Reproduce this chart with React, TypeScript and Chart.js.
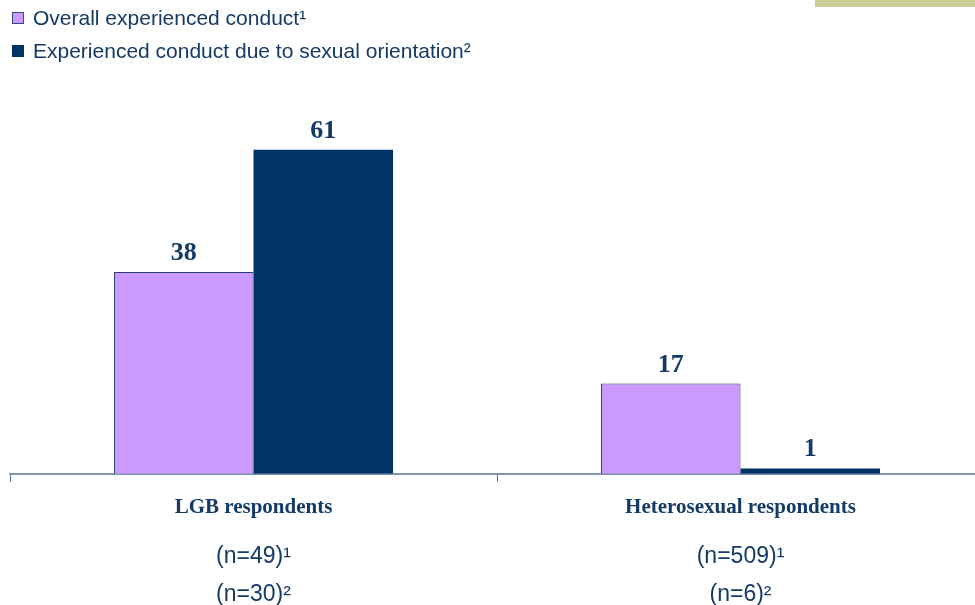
import React, { useEffect, useRef } from "react";
import { Chart, registerables } from "chart.js";

Chart.register(...registerables);

const categories = ["LGB respondents", "Heterosexual respondents"];
const overallConduct = [38, 17];
const conductDueToOrientation = [61, 1];
const sampleOverall = ["(n=49)¹", "(n=509)¹"];
const sampleOrientation = ["(n=30)²", "(n=6)²"];
const seriesLabels = [
  "Overall experienced conduct¹",
  "Experienced conduct due to sexual orientation²",
];

const PURPLE = "#cc99ff";
const NAVY = "#003366";
const TEXT = "#143a66";

const overlayPlugin = {
  id: "overlay",
  afterDatasetsDraw(chart: any) {
    const ctx = chart.ctx;
    ctx.save();
    ctx.font = "bold 26px 'Liberation Serif'";
    ctx.fillStyle = TEXT;
    ctx.textAlign = "center";
    ctx.textBaseline = "alphabetic";
    chart.data.datasets.forEach((ds: any, i: number) => {
      const meta = chart.getDatasetMeta(i);
      meta.data.forEach((bar: any, j: number) => {
        ctx.fillText(String(ds.data[j]), bar.x, bar.y - 12);
      });
    });
    ctx.restore();
  },
  afterDraw(chart: any) {
    const ctx = chart.ctx;
    const xs = chart.scales.x;
    ctx.save();
    // sample sizes
    ctx.font = "23px 'Liberation Sans'";
    ctx.fillStyle = TEXT;
    ctx.textAlign = "center";
    ctx.textBaseline = "middle";
    categories.forEach((_, i) => {
      const x = xs.getPixelForValue(i);
      ctx.fillText(sampleOverall[i], x, chart.chartArea.bottom + 83);
      ctx.fillText(sampleOrientation[i], x, chart.chartArea.bottom + 121);
    });
    // legend
    ctx.textAlign = "left";
    ctx.font = "21px 'Liberation Sans'";
    chart.data.datasets.forEach((ds: any, i: number) => {
      const cy = 18 + i * 33;
      ctx.fillStyle = ds.backgroundColor;
      ctx.fillRect(12, cy - 6, 12, 12);
      ctx.strokeStyle = i === 0 ? "#3a4a7a" : NAVY;
      ctx.lineWidth = 1;
      ctx.strokeRect(12.5, cy - 5.5, 11, 11);
      ctx.fillStyle = TEXT;
      ctx.fillText(seriesLabels[i], 33, cy + 1);
    });
    // decorative top-right band
    ctx.fillStyle = "#cccc99";
    ctx.fillRect(815, 0, 175, 7);
    ctx.restore();
  },
};

export default function App() {
  const ref = useRef<HTMLCanvasElement>(null);
  useEffect(() => {
    if (!ref.current) return;
    const chart = new Chart(ref.current, {
      type: "bar",
      data: {
        labels: categories,
        datasets: [
          {
            label: seriesLabels[0],
            data: overallConduct,
            backgroundColor: PURPLE,
            borderColor: "#2a3f74",
            borderWidth: 1,
          },
          {
            label: seriesLabels[1],
            data: conductDueToOrientation,
            backgroundColor: NAVY,
            borderColor: NAVY,
            borderWidth: 0,
          },
        ],
      },
      options: {
        responsive: false,
        animation: false,
        devicePixelRatio: 1,
        layout: { padding: { left: 10, right: 10, top: 102, bottom: 72 } },
        plugins: { legend: { display: false }, tooltip: { enabled: false } },
        datasets: { bar: { categoryPercentage: 0.573, barPercentage: 1 } },
        scales: {
          y: { display: false, min: 0, max: 70 },
          x: {
            offset: true,
            border: { display: true, color: "#8096b0", width: 2 },
            grid: {
              display: true,
              drawOnChartArea: false,
              drawTicks: true,
              tickLength: 8,
              color: "#5a7090",
              lineWidth: 1,
              offset: true,
            },
            ticks: {
              color: TEXT,
              padding: 13,
              font: { family: "'Liberation Serif'", size: 21, weight: "bold" },
            },
          },
        },
      },
      plugins: [overlayPlugin],
    });
    return () => chart.destroy();
  }, []);
  return (
    <div
      style={{
        position: "fixed",
        left: 0,
        top: 0,
        width: 975,
        height: 605,
        overflow: "hidden",
        background: "#fff",
      }}
    >
      <canvas ref={ref} width={994} height={605} style={{ width: 994, height: 605, display: "block" }} />
    </div>
  );
}
